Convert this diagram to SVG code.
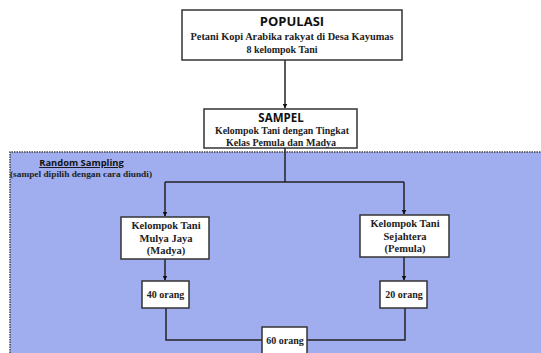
<svg xmlns="http://www.w3.org/2000/svg" width="541" height="353" viewBox="0 0 541 353">
<style>
.box{fill:#fff;stroke:#333;stroke-width:1.5}
.t{font-family:"Liberation Serif",serif;font-weight:bold;font-size:10.5px;fill:#222;text-anchor:middle}
.s{font-size:10px}
.h{font-family:"Open Sans","DejaVu Sans",sans-serif;font-weight:bold;font-size:13px;fill:#111;text-anchor:middle}
.c{fill:none;stroke:#222;stroke-width:1.5}
</style>
<defs>
<marker id="ah" viewBox="0 0 10 10" refX="9" refY="5" markerWidth="5" markerHeight="5" orient="auto" markerUnits="userSpaceOnUse">
<path d="M0,0L10,5L0,10z" fill="#111"/>
</marker>
</defs>
<rect width="541" height="353" fill="#fff"/>
<g id="region">
<rect x="10" y="152" width="540" height="210" fill="#a0aef0"/>
<path d="M10,353V152H541" fill="none" stroke="#444" stroke-width="1.5" stroke-dasharray="1.5,1"/>
<text x="81.5" y="166" font-family="Open Sans,DejaVu Sans,sans-serif" font-weight="bold" font-size="9.4" fill="#111" text-anchor="middle" text-decoration="underline">Random Sampling</text>
<text x="81" y="177" class="t" style="font-size:9.2px" textLength="142" lengthAdjust="spacingAndGlyphs">(sampel dipilih dengan cara diundi)</text>
</g>
<g id="connectors">
<path class="c" d="M285,60V108" marker-end="url(#ah)"/>
<path class="c" d="M285,148V182"/>
<path class="c" d="M165,182H404"/>
<path class="c" d="M165,182V216" marker-end="url(#ah)"/>
<path class="c" d="M404,182V214" marker-end="url(#ah)"/>
<path class="c" d="M165,259V280" marker-end="url(#ah)"/>
<path class="c" d="M404,257V280" marker-end="url(#ah)"/>
<path class="c" d="M166,308V340H262"/>
<path class="c" d="M405,308V340H307"/>
</g>
<g id="populasi">
<rect class="box" x="182" y="10" width="220" height="50"/>
<text class="h" x="292" y="26">POPULASI</text>
<text class="t s" x="292" y="40" textLength="203" lengthAdjust="spacingAndGlyphs">Petani Kopi Arabika rakyat di Desa Kayumas</text>
<text class="t s" x="282" y="53">8 kelompok Tani</text>
</g>
<g id="sampel">
<rect class="box" x="204" y="109" width="153" height="39"/>
<text class="h" x="281" y="122" style="font-size:11.5px">SAMPEL</text>
<text class="t s" x="282" y="134" textLength="134" lengthAdjust="spacingAndGlyphs">Kelompok Tani dengan Tingkat</text>
<text class="t s" x="281" y="146" textLength="110" lengthAdjust="spacingAndGlyphs">Kelas Pemula dan Madya</text>
</g>
<g id="mulya">
<rect class="box" x="121" y="217" width="88" height="42"/>
<text class="t" x="166" y="229">Kelompok Tani</text>
<text class="t" x="166" y="241.5">Mulya Jaya</text>
<text class="t" x="166" y="254">(Madya)</text>
</g>
<g id="sejahtera">
<rect class="box" x="360" y="215" width="89" height="42"/>
<text class="t" x="405" y="227">Kelompok Tani</text>
<text class="t" x="405" y="239.5">Sejahtera</text>
<text class="t" x="405" y="252">(Pemula)</text>
</g>
<g id="n40">
<rect class="box" x="142" y="281" width="47" height="27"/>
<text class="t s" x="165.5" y="298">40 orang</text>
</g>
<g id="n20">
<rect class="box" x="380" y="281" width="47" height="27"/>
<text class="t s" x="404" y="298">20 orang</text>
</g>
<g id="n60">
<rect class="box" x="262" y="327" width="45" height="32"/>
<text class="t s" x="285" y="343.5">60 orang</text>
</g>
</svg>
